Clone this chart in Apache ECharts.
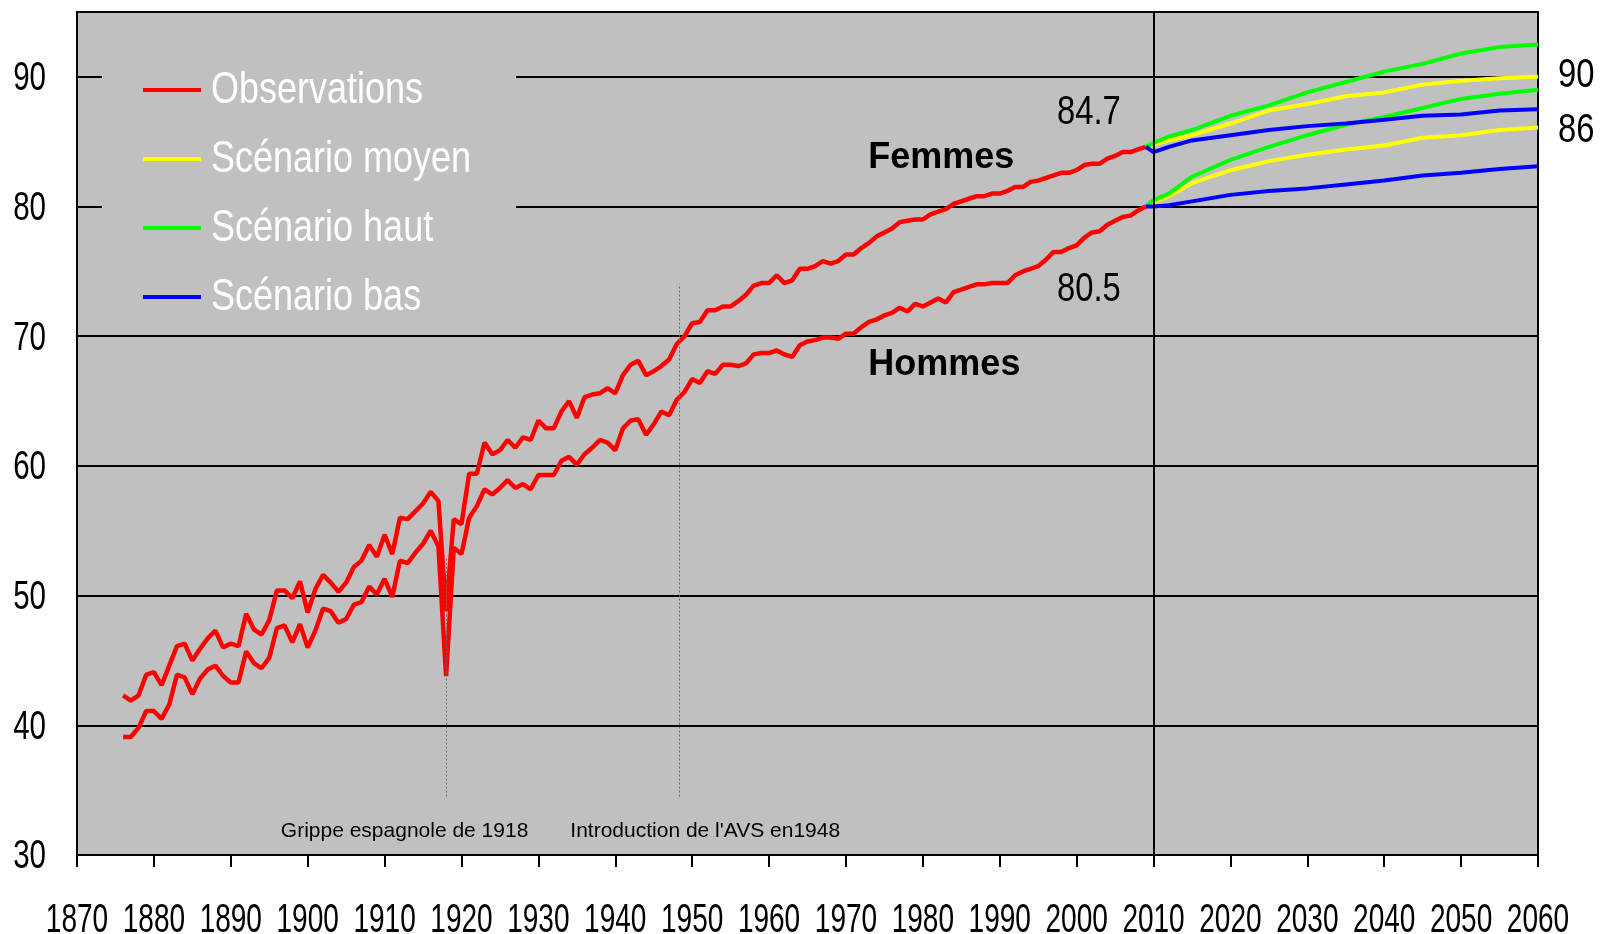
<!DOCTYPE html>
<html>
<head>
<meta charset="utf-8">
<script src="https://cdn.jsdelivr.net/npm/echarts@6.0.0/dist/echarts.min.js"></script>
<style>
  html, body { margin: 0; padding: 0; background: #fff; }
  #chart { width: 1600px; height: 934px; }
</style>
</head>
<body>
<div id="chart"></div>
<script>
// observed life expectancy at birth, 1876-2009
var obsYears = [];
for (var y = 1876; y <= 2009; y++) obsYears.push(y);

var femmesObs = [
  42.3, 41.9, 42.3, 43.9, 44.1, 43.1, 44.6, 46.1, 46.3, 45.0,
  45.9, 46.7, 47.3, 46.0, 46.3, 46.1, 48.6, 47.4, 47.0, 48.1,
  50.4, 50.4, 49.8, 51.1, 48.7, 50.5, 51.6, 51.0, 50.3, 51.0,
  52.2, 52.7, 53.9, 53.0, 54.7, 53.2, 56.0, 55.9, 56.5, 57.1,
  58.0, 57.3, 48.8, 55.9, 55.5, 59.4, 59.4, 61.8, 60.9, 61.2,
  62.0, 61.4, 62.2, 62.0, 63.5, 62.9, 62.9, 64.2, 65.0, 63.7,
  65.3, 65.5, 65.6, 66.0, 65.6, 67.0, 67.8, 68.1, 67.0, 67.3,
  67.7, 68.2, 69.4, 70.0, 71.0, 71.1, 72.0, 72.0, 72.3, 72.3,
  72.7, 73.2, 73.9, 74.1, 74.1, 74.7, 74.1, 74.3, 75.2, 75.2,
  75.4, 75.8, 75.6, 75.8, 76.3, 76.3, 76.8, 77.2, 77.7, 78.0,
  78.3, 78.8, 78.9, 79.0, 79.0, 79.4, 79.6, 79.8, 80.2, 80.4,
  80.6, 80.8, 80.8, 81.0, 81.0, 81.2, 81.5, 81.5, 81.9, 82.0,
  82.2, 82.4, 82.6, 82.6, 82.8, 83.2, 83.3, 83.3, 83.7, 83.9,
  84.2, 84.2, 84.4, 84.6
];
var hommesObs = [
  39.1, 39.1, 39.8, 41.1, 41.1, 40.5, 41.6, 43.9, 43.7, 42.4,
  43.6, 44.3, 44.6, 43.8, 43.3, 43.3, 45.7, 44.8, 44.4, 45.2,
  47.5, 47.7, 46.4, 47.8, 46.0, 47.3, 49.0, 48.8, 47.9, 48.2,
  49.3, 49.5, 50.7, 50.1, 51.3, 49.9, 52.7, 52.5, 53.3, 54.0,
  55.0, 53.8, 43.8, 53.7, 53.2, 56.0, 56.9, 58.2, 57.8, 58.3,
  58.9, 58.3, 58.6, 58.2, 59.3, 59.3, 59.3, 60.4, 60.7, 60.1,
  60.9, 61.4, 62.0, 61.8, 61.2, 62.9, 63.5, 63.6, 62.4, 63.2,
  64.2, 63.9, 65.1, 65.7, 66.7, 66.4, 67.3, 67.1, 67.8, 67.8,
  67.7, 67.9, 68.6, 68.7, 68.7, 68.9, 68.6, 68.4, 69.3, 69.6,
  69.7, 69.9, 69.9, 69.8, 70.2, 70.2, 70.7, 71.1, 71.3, 71.6,
  71.8, 72.2, 71.9, 72.5, 72.3, 72.6, 72.9, 72.6, 73.4, 73.6,
  73.8, 74.0, 74.0, 74.1, 74.1, 74.1, 74.7, 75.0, 75.2, 75.4,
  75.9, 76.5, 76.5, 76.8, 77.0, 77.6, 78.0, 78.1, 78.6, 78.9,
  79.2, 79.3, 79.7, 80.0
];

// scenarios 2009-2060
var projYears = [2009, 2010, 2012, 2015, 2020, 2025, 2030, 2035, 2040, 2045, 2050, 2055, 2060];
var femmesMoyen = [84.6, 84.8, 85.1, 85.5, 86.4, 87.4, 87.9, 88.5, 88.8, 89.4, 89.7, 89.9, 90.0];
var femmesHaut  = [84.6, 84.9, 85.4, 85.9, 87.0, 87.8, 88.8, 89.6, 90.4, 91.0, 91.8, 92.3, 92.5];
var femmesBas   = [84.6, 84.2, 84.6, 85.1, 85.5, 85.9, 86.2, 86.4, 86.7, 87.0, 87.1, 87.4, 87.5];
var hommesMoyen = [80.0, 80.3, 80.8, 81.8, 82.8, 83.5, 84.0, 84.4, 84.7, 85.3, 85.5, 85.9, 86.1];
var hommesHaut  = [80.0, 80.5, 81.0, 82.3, 83.6, 84.6, 85.5, 86.3, 86.9, 87.6, 88.3, 88.7, 89.0];
var hommesBas   = [80.0, 80.0, 80.1, 80.4, 80.9, 81.2, 81.4, 81.7, 82.0, 82.4, 82.6, 82.9, 83.1];

// tick labels
var xTicks = [1870, 1880, 1890, 1900, 1910, 1920, 1930, 1940, 1950, 1960,
              1970, 1980, 1990, 2000, 2010, 2020, 2030, 2040, 2050, 2060];
var yTicks = [30, 40, 50, 60, 70, 80, 90];

var legendNames = ['Observations', 'Scénario moyen', 'Scénario haut', 'Scénario bas'];
var legendColors = ['#ff0000', '#ffff00', '#00ff00', '#0000ff'];

var ARIAL = '"Liberation Sans", Arial, sans-serif';

function pairs(xs, vs) {
  return xs.map(function (x, i) { return [x, vs[i]]; });
}

function lineSeries(name, color, xs, vs, width, extra) {
  var s = {
    name: name,
    type: 'line',
    data: pairs(xs, vs),
    showSymbol: false,
    symbol: 'none',
    lineStyle: { color: color, width: width },
    itemStyle: { color: color },
    z: 3
  };
  return Object.assign(s, extra || {});
}

function txt(coord, text, font) {
  return {
    coord: coord,
    symbolSize: 0,
    label: Object.assign({ show: true, formatter: text, color: '#000' }, font)
  };
}

// condensed text (the original uses a narrow face)
function ctext(x, y, text, size, align, sx, color) {
  return {
    type: 'text', x: x, y: y, scaleX: sx, silent: true, z: 10,
    style: {
      text: text, x: 0, y: 0,
      fill: color || '#000',
      fontSize: size, fontFamily: ARIAL,
      align: align, verticalAlign: 'middle'
    }
  };
}

var chart = echarts.init(document.getElementById('chart'));

chart.setOption({
  animation: false,
  backgroundColor: '#fff',
  grid: {
    left: 77, right: 62, top: 12, bottom: 79,
    show: true,
    backgroundColor: '#c0c0c0',
    borderColor: '#000',
    borderWidth: 2
  },
  xAxis: {
    type: 'value',
    min: 1870, max: 2060, interval: 10,
    axisLine: { lineStyle: { color: '#000', width: 2 } },
    axisTick: { show: true, length: 12, lineStyle: { color: '#000', width: 2 } },
    splitLine: { show: false },
    axisLabel: { show: false }
  },
  yAxis: {
    type: 'value',
    min: 30, max: 95, interval: 10,
    axisLine: { show: true, lineStyle: { color: '#000', width: 2 } },
    axisTick: { show: false },
    splitLine: { show: true, lineStyle: { color: '#000', width: 2 } },
    axisLabel: { show: false }
  },
  series: [
    lineSeries('Observations', '#ff0000', obsYears, femmesObs, 4.5, {
      markLine: {
        silent: true, symbol: ['none', 'none'], label: { show: false },
        lineStyle: { color: '#000', width: 2, type: 'solid' },
        data: [{ xAxis: 2010 }]
      },
      markPoint: {
        silent: true,
        data: [
          txt([1982.4, 83.7], 'Femmes', { fontSize: 36, fontFamily: ARIAL, fontWeight: 'bold' }),
          txt([1982.8, 67.8], 'Hommes', { fontSize: 36, fontFamily: ARIAL, fontWeight: 'bold' }),
          txt([1912.6, 31.8], 'Grippe espagnole de 1918', { fontSize: 21, fontFamily: ARIAL }),
          txt([1951.7, 31.8], "Introduction de l'AVS en1948", { fontSize: 21, fontFamily: ARIAL })
        ]
      }
    }),
    lineSeries('Observations', '#ff0000', obsYears, hommesObs, 4.5, {
      markLine: {
        silent: true, symbol: ['none', 'none'], label: { show: false },
        lineStyle: { color: '#6a6a6a', width: 1, type: [2, 2] },
        data: [
          [{ coord: [1918, 34.5] }, { coord: [1918, 53] }],
          [{ coord: [1948.3, 34.5] }, { coord: [1948.3, 74] }]
        ]
      }
    }),
    lineSeries('Scénario moyen', '#ffff00', projYears, femmesMoyen, 4),
    lineSeries('Scénario moyen', '#ffff00', projYears, hommesMoyen, 4),
    lineSeries('Scénario haut', '#00ff00', projYears, femmesHaut, 4),
    lineSeries('Scénario haut', '#00ff00', projYears, hommesHaut, 4),
    lineSeries('Scénario bas', '#0000ff', projYears, femmesBas, 4),
    lineSeries('Scénario bas', '#0000ff', projYears, hommesBas, 4)
  ]
});

// labels and legend placed through the axes' own scales
function px(x, v) { return chart.convertToPixel({ gridIndex: 0 }, [x, v]); }

var g = [];
var bottomY = px(1870, 30)[1];
var leftX = px(1870, 30)[0];
xTicks.forEach(function (t) {
  g.push(ctext(px(t, 30)[0], bottomY + 66, String(t), 40, 'center', 0.7));
});
yTicks.forEach(function (t) {
  g.push(ctext(leftX - 31, px(1870, t)[1] + 2, String(t), 41, 'right', 0.72));
});

var p;
p = px(2001.6, 87.4); g.push(ctext(p[0], p[1] + 2, '84.7', 41, 'center', 0.8));
p = px(2001.6, 73.6); g.push(ctext(p[0], p[1], '80.5', 41, 'center', 0.8));
p = px(2060, 90.2);  g.push(ctext(p[0] + 20, p[1] + 1, '90', 41, 'left', 0.8));
p = px(2060, 85.9);  g.push(ctext(p[0] + 20, p[1] + 1, '86', 41, 'left', 0.8));

// legend box
g.push({
  type: 'rect', silent: true, z: 1,
  shape: { x: 102, y: 40, width: 414, height: 285 },
  style: { fill: '#c0c0c0' }
});
legendNames.forEach(function (name, i) {
  var cy = 90 + i * 69;
  g.push({
    type: 'line', silent: true, z: 10,
    shape: { x1: 143, y1: cy, x2: 201, y2: cy },
    style: { stroke: legendColors[i], lineWidth: 4 }
  });
  g.push(ctext(211, cy + 1, name, 45, 'left', 0.8, '#fff'));
});

chart.setOption({ graphic: g });
</script>
</body>
</html>
